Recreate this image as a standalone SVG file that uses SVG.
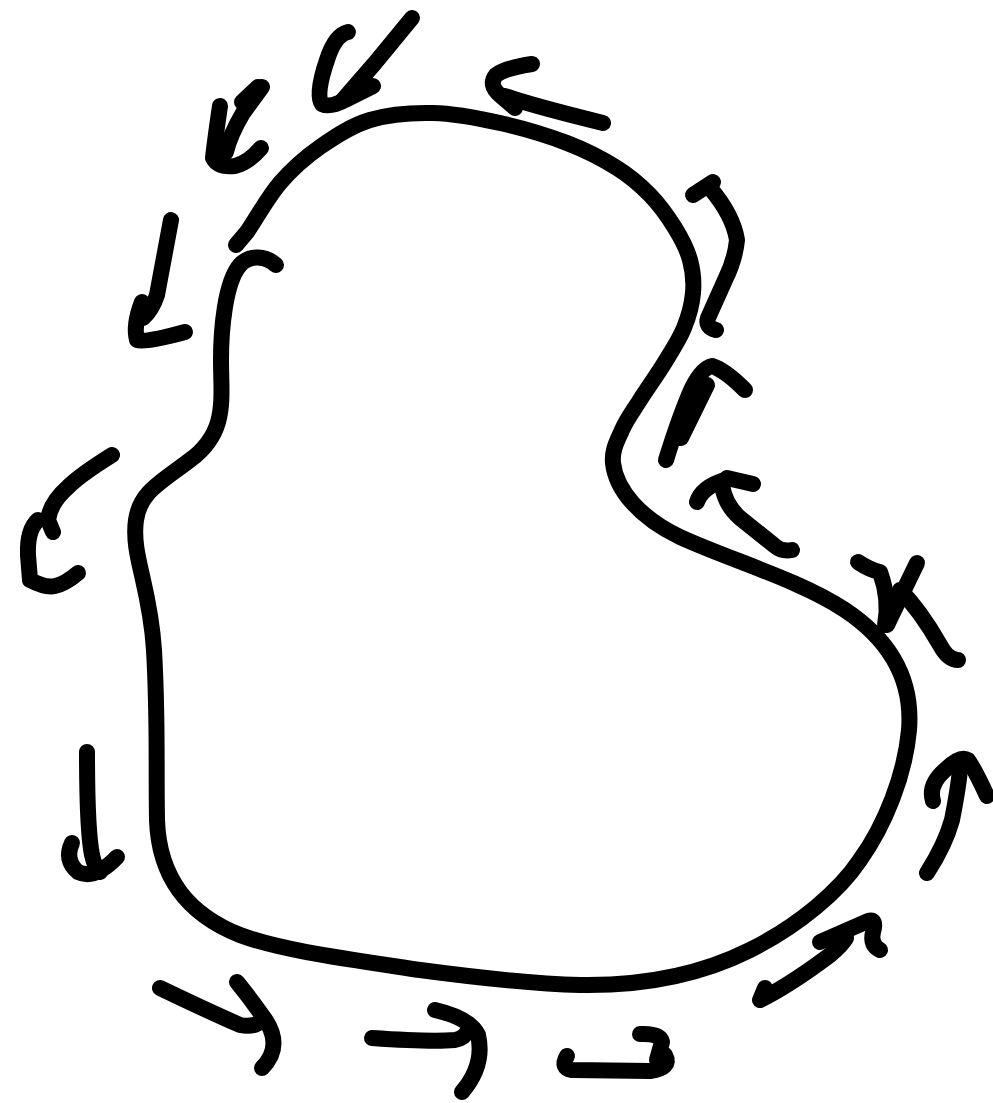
<svg xmlns="http://www.w3.org/2000/svg" width="993" height="1103" viewBox="0 0 993 1103">
<style>
.s{fill:none;stroke:#000;stroke-width:16;stroke-linecap:round;stroke-linejoin:round}
.a{fill:none;stroke:#000;stroke-width:16;stroke-linecap:round;stroke-linejoin:round}
</style>
<rect width="993" height="1103" fill="#fff"/>
<g id="outline">
<path class="s" d="M276,265 C266,256 250,254 240,265 C225,282 221,330 221,360 C221,400 228,432 190,460 C160,483 140,492 136,520 C131,555 150,585 154,650 C158,720 156,760 157,820 C159,880 190,915 240,935 C280,950 340,958 420,970 C480,978 540,984 580,985 C640,986 700,975 750,950 C800,925 840,890 860,860 C885,825 905,775 909,730 C913,680 890,640 845,610 C800,580 730,560 680,537 C640,518 616,490 613,463 C611.7,449.7 617.5,440.5 622,430 C626.5,419.5 632.8,411.3 640,400 C647.2,388.7 657.7,374 665,362 C672.3,350 679.3,339.5 684,328 C688.7,316.5 692,304.3 693,293 C694,281.7 693,270.8 690,260 C687,249.2 681.7,238.8 675,228 C668.3,217.2 659.7,205 650,195 C640.3,185 630.8,176.7 617,168 C603.2,159.3 586.5,150.5 567,143 C547.5,135.5 522.3,128 500,123 C477.7,118 454.7,113.5 433,113 C411.3,112.5 388.8,114.3 370,120 C351.2,125.7 335,136.5 320,147 C305,157.5 292.2,168.8 280,183 C267.8,197.2 254.3,221.7 247,232 L236,245"/>
</g>
<g id="arrows">
<path class="a" d="M262,87 L243,113 Q230,135 226,152"/>
<path class="a" d="M242,102 L258,87"/>
<path class="a" d="M220,106 Q215,140 213,158 Q218,168 235,166 Q248,163 261,148"/>
<path class="a" d="M412,18 L375,63 L342,101"/>
<path class="a" d="M348,32 Q335,35 327,60 Q315,95 322,104 Q330,108 345,100 L373,86"/>
<path class="a" d="M532,64 Q505,68 496,75 Q488,85 500,95 L515,108"/>
<path class="a" d="M505,96 Q530,105 603,123"/>
<path class="a" d="M693,195 L713,182"/>
<path class="a" d="M710,188 Q733,215 737,240 Q735,260 725,280 L708,318 Q705,327 716,330"/>
<path class="a" d="M666,460 Q680,415 692,388 Q702,368 712,366 Q725,370 745,390"/>
<path class="a" d="M707,385 L681,438"/>
<path class="a" d="M727,478 L753,484"/>
<path class="a" d="M697,502 Q702,487 725,480"/>
<path class="a" d="M722,485 Q725,505 740,518 L775,546 Q782,552 792,550"/>
<path class="a" d="M858,562 Q870,570 880,572 Q890,600 885,625"/>
<path class="a" d="M917,563 L887,625"/>
<path class="a" d="M900,590 Q920,610 940,645 Q948,660 958,660"/>
<path class="a" d="M927,873 Q945,845 952,820 Q958,790 960,770"/>
<path class="a" d="M933,801 Q928,785 945,770 Q960,755 968,760 Q975,770 987,796"/>
<path class="a" d="M765,988 L760,1000 Q790,985 830,955 Q842,945 846,938"/>
<path class="a" d="M820,942 L868,921 Q877,918 873,932 Q870,945 880,950"/>
<path class="a" d="M160,988 Q210,1012 240,1025 Q255,1028 262,1020"/>
<path class="a" d="M237,982 Q250,998 262,1015 Q285,1045 262,1068"/>
<path class="a" d="M372,1038 Q430,1042 455,1040 Q465,1038 468,1030"/>
<path class="a" d="M435,1010 Q470,1018 478,1035 Q485,1065 462,1092"/>
<path class="a" d="M640,1034 Q660,1033 662,1042 L657,1060"/>
<path class="a" d="M567,1056 Q560,1068 572,1070 L650,1071 Q672,1068 665,1055"/>
<path class="a" d="M112,455 Q80,475 68,487 Q50,503 48,520 L53,532"/>
<path class="a" d="M38,520 Q27,530 28,555 L30,580 Q45,588 55,586 Q65,584 78,573"/>
<path class="a" d="M171,220 L157,295 Q152,310 143,318"/>
<path class="a" d="M142,302 Q133,325 137,340 Q145,343 185,332"/>
<path class="a" d="M87,752 Q87,830 92,855 Q95,868 100,872"/>
<path class="a" d="M72,843 Q64,860 78,872 Q95,880 117,857"/>
</g>
</svg>
